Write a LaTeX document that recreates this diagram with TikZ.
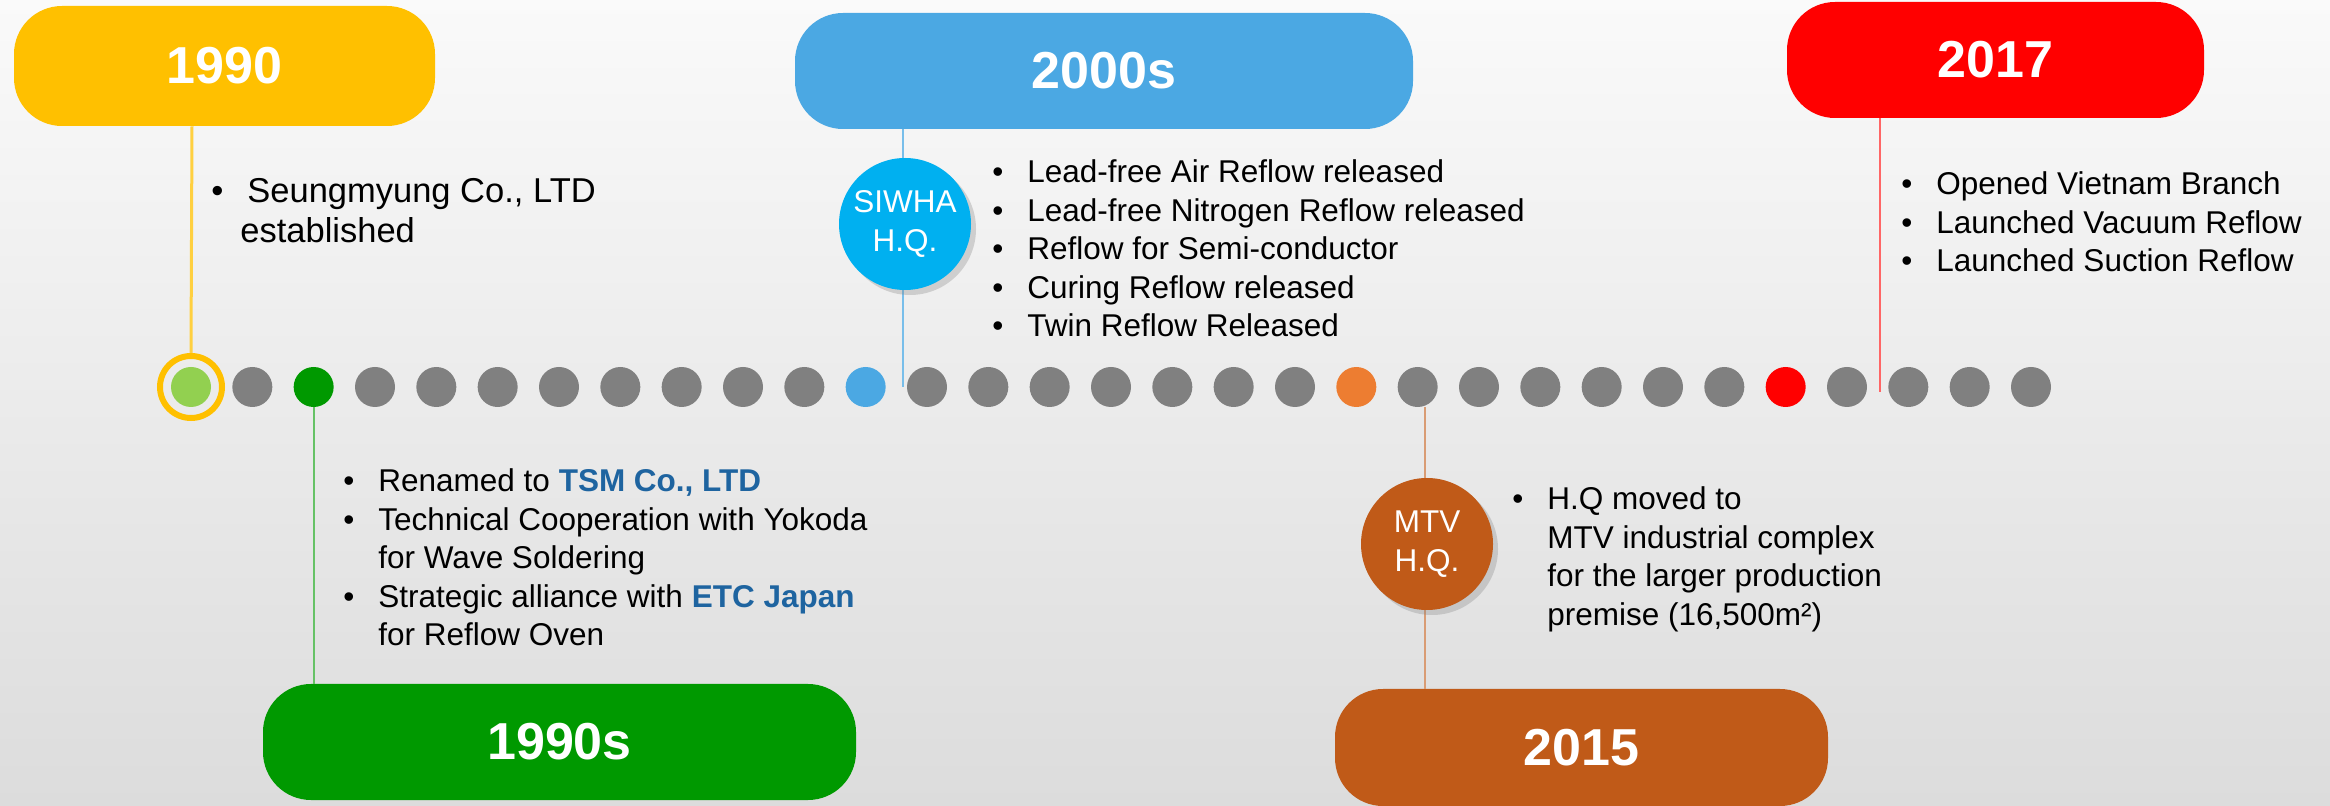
\documentclass[tikz,border=0pt]{standalone}
\usepackage{fontspec}
\setmainfont{Liberation Sans}
\usetikzlibrary{shadows}
\definecolor{cyellow}{HTML}{FFC000}
\definecolor{clgreen}{HTML}{92D050}
\definecolor{cgreen}{HTML}{009900}
\definecolor{cblue}{HTML}{4BA8E3}
\definecolor{ccyan}{HTML}{00B0F0}
\definecolor{corange}{HTML}{ED7D31}
\definecolor{cbrown}{HTML}{C05A18}
\definecolor{cred}{HTML}{FF0000}
\definecolor{cgray}{HTML}{808080}
\definecolor{ctsm}{HTML}{1E64A0}
\definecolor{bgtop}{HTML}{FAFAFA}
\definecolor{bgbot}{HTML}{DCDCDC}
\newcommand{\bul}{\llap{\textbullet\hspace{12pt}}}
\tikzset{
  pill/.style={rectangle, rounded corners=24pt, inner sep=0pt, text=white,
    font=\fontsize{26}{30}\selectfont\bfseries},
  dot/.style={circle, inner sep=0pt, minimum size=20pt},
  hq/.style={circle, inner sep=0pt, minimum size=66pt, text=white, align=center,
    font=\fontsize{15.75}{19.5}\selectfont,
    drop shadow={shadow xshift=2.5pt, shadow yshift=-2.5pt, opacity=0.3}},
  list/.style={anchor=base west, inner sep=0pt, text=black,
    font=\fontsize{15.75}{19.25}\selectfont},
  link/.style={line width=1pt},
}
\begin{document}
\begin{tikzpicture}[x=0.5pt, y=-0.5pt]
\useasboundingbox (0,0) rectangle (2330,806);
\shade[top color=bgtop, bottom color=bgbot] (0,0) rectangle (2330,806);

% named points for connector ends
\coordinate (cb) at (903,387);
\coordinate (cm) at (1425,407);
\coordinate (cr) at (1880,392);
\coordinate (cy) at (192,387);

% header pills
\node[pill, fill=cyellow, minimum width=210.5pt, minimum height=60pt] (p1990) at (224.5,66) {1990};
\node[pill, fill=cblue, minimum width=309pt, minimum height=58pt] (p2000) at (1104,71) {2000s};
\node[pill, fill=cred, minimum width=208.5pt, minimum height=58pt] (p2017) at (1995.5,60) {2017};
\node[pill, fill=cgreen, minimum width=296.5pt, minimum height=58pt] (p1990s) at (559.5,742) {1990s};
\node[pill, fill=cbrown, minimum width=246.5pt, minimum height=58.5pt] (p2015) at (1581.5,747.5) {2015};

% timeline dots
\foreach \i in {0,...,30}{
  \def\c{cgray}
  \ifnum\i=0 \def\c{clgreen}\fi
  \ifnum\i=2 \def\c{cgreen}\fi
  \ifnum\i=11 \def\c{cblue}\fi
  \ifnum\i=19 \def\c{corange}\fi
  \ifnum\i=26 \def\c{cred}\fi
  \node[dot, fill=\c] (d\i) at ({191+\i*61.333},387) {};
}
\node[circle, draw=cyellow, line width=3pt, minimum size=31pt, inner sep=0pt] (ring) at (d0) {};

% connectors
\draw[link, line width=1.5pt, cyellow!75!white] (p1990.south -| cy) -- (ring.north);
\draw[link, cgreen!60!white] (d2.south) -- (d2 |- p1990s.north);
\draw[link, cblue!75!white] (p2000.south -| cb) -- (cb);
\draw[link, cbrown!60!white] (cm) -- (cm |- p2015.north);
\draw[link, cred!60!white] (p2017.south -| cr) -- (cr);

% HQ circles
\node[hq, fill=ccyan] (siwha) at (905,224) {SIWHA\\H.Q.};
\node[hq, fill=cbrown] (mtv) at (1427,544) {MTV\\H.Q.};

% bullet lists
\node[list, font=\fontsize{17.25}{20}\selectfont] (l1990) at (240,203)
  {\begin{tabular}[t]{@{}l@{}}\hspace{3.5pt}\bul Seungmyung Co., LTD\\ established\end{tabular}};
\node[list] (l2000) at (1027,183)
  {\begin{tabular}[t]{@{}l@{}}
   \bul Lead-free Air Reflow released\\
   \bul Lead-free Nitrogen Reflow released\\
   \bul Reflow for Semi-conductor\\
   \bul Curing Reflow released\\
   \bul Twin Reflow Released\end{tabular}};
\node[list] (l2017) at (1936,195)
  {\begin{tabular}[t]{@{}l@{}}
   \bul Opened Vietnam Branch\\
   \bul Launched Vacuum Reflow\\
   \bul Launched Suction Reflow\end{tabular}};
\node[list] (l1990s) at (378,492)
  {\begin{tabular}[t]{@{}l@{}}
   \bul Renamed to {\bfseries\color{ctsm}TSM Co., LTD}\\
   \bul Technical Cooperation with Yokoda\\
   for Wave Soldering\\
   \bul Strategic alliance with {\bfseries\color{ctsm}ETC Japan}\\
   for Reflow Oven\end{tabular}};
\node[list] (lmtv) at (1547,510)
  {\begin{tabular}[t]{@{}l@{}}
   \bul H.Q moved to\\
   MTV industrial complex\\
   for the larger production\\
   premise (16,500m²)\end{tabular}};
\end{tikzpicture}
\end{document}
